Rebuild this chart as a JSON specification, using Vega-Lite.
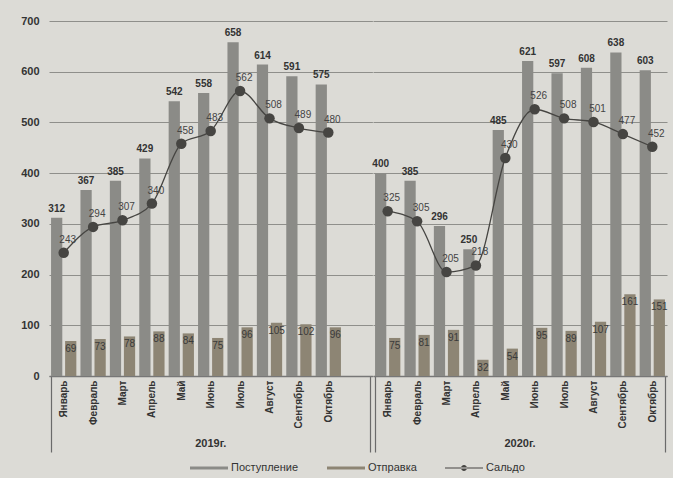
{
  "$schema": "https://vega.github.io/schema/vega-lite/v6.json",
  "background": "#dcdbd6",
  "padding": {"left": 20, "top": 15, "right": 5, "bottom": 5},
  "datasets": {
    "d": [
      {"year": "2019г.", "month": "Январь", "series": "Поступление", "value": 312},
      {"year": "2019г.", "month": "Февраль", "series": "Поступление", "value": 367},
      {"year": "2019г.", "month": "Март", "series": "Поступление", "value": 385},
      {"year": "2019г.", "month": "Апрель", "series": "Поступление", "value": 429},
      {"year": "2019г.", "month": "Май", "series": "Поступление", "value": 542},
      {"year": "2019г.", "month": "Июнь", "series": "Поступление", "value": 558},
      {"year": "2019г.", "month": "Июль", "series": "Поступление", "value": 658},
      {"year": "2019г.", "month": "Август", "series": "Поступление", "value": 614},
      {"year": "2019г.", "month": "Сентябрь", "series": "Поступление", "value": 591},
      {"year": "2019г.", "month": "Октябрь", "series": "Поступление", "value": 575},
      {"year": "2019г.", "month": " ", "series": "Поступление", "value": 0},
      {"year": "2019г.", "month": "Январь", "series": "Отправка", "value": 69},
      {"year": "2019г.", "month": "Февраль", "series": "Отправка", "value": 73},
      {"year": "2019г.", "month": "Март", "series": "Отправка", "value": 78},
      {"year": "2019г.", "month": "Апрель", "series": "Отправка", "value": 88},
      {"year": "2019г.", "month": "Май", "series": "Отправка", "value": 84},
      {"year": "2019г.", "month": "Июнь", "series": "Отправка", "value": 75},
      {"year": "2019г.", "month": "Июль", "series": "Отправка", "value": 96},
      {"year": "2019г.", "month": "Август", "series": "Отправка", "value": 105},
      {"year": "2019г.", "month": "Сентябрь", "series": "Отправка", "value": 102},
      {"year": "2019г.", "month": "Октябрь", "series": "Отправка", "value": 96},
      {"year": "2019г.", "month": "Январь", "series": "Сальдо", "value": 243},
      {"year": "2019г.", "month": "Февраль", "series": "Сальдо", "value": 294},
      {"year": "2019г.", "month": "Март", "series": "Сальдо", "value": 307},
      {"year": "2019г.", "month": "Апрель", "series": "Сальдо", "value": 340},
      {"year": "2019г.", "month": "Май", "series": "Сальдо", "value": 458},
      {"year": "2019г.", "month": "Июнь", "series": "Сальдо", "value": 483},
      {"year": "2019г.", "month": "Июль", "series": "Сальдо", "value": 562},
      {"year": "2019г.", "month": "Август", "series": "Сальдо", "value": 508},
      {"year": "2019г.", "month": "Сентябрь", "series": "Сальдо", "value": 489},
      {"year": "2019г.", "month": "Октябрь", "series": "Сальдо", "value": 480},
      {"year": "2020г.", "month": "Январь", "series": "Поступление", "value": 400},
      {"year": "2020г.", "month": "Февраль", "series": "Поступление", "value": 385},
      {"year": "2020г.", "month": "Март", "series": "Поступление", "value": 296},
      {"year": "2020г.", "month": "Апрель", "series": "Поступление", "value": 250},
      {"year": "2020г.", "month": "Май", "series": "Поступление", "value": 485},
      {"year": "2020г.", "month": "Июнь", "series": "Поступление", "value": 621},
      {"year": "2020г.", "month": "Июль", "series": "Поступление", "value": 597},
      {"year": "2020г.", "month": "Август", "series": "Поступление", "value": 608},
      {"year": "2020г.", "month": "Сентябрь", "series": "Поступление", "value": 638},
      {"year": "2020г.", "month": "Октябрь", "series": "Поступление", "value": 603},
      {"year": "2020г.", "month": "Январь", "series": "Отправка", "value": 75},
      {"year": "2020г.", "month": "Февраль", "series": "Отправка", "value": 81},
      {"year": "2020г.", "month": "Март", "series": "Отправка", "value": 91},
      {"year": "2020г.", "month": "Апрель", "series": "Отправка", "value": 32},
      {"year": "2020г.", "month": "Май", "series": "Отправка", "value": 54},
      {"year": "2020г.", "month": "Июнь", "series": "Отправка", "value": 95},
      {"year": "2020г.", "month": "Июль", "series": "Отправка", "value": 89},
      {"year": "2020г.", "month": "Август", "series": "Отправка", "value": 107},
      {"year": "2020г.", "month": "Сентябрь", "series": "Отправка", "value": 161},
      {"year": "2020г.", "month": "Октябрь", "series": "Отправка", "value": 151},
      {"year": "2020г.", "month": "Январь", "series": "Сальдо", "value": 325},
      {"year": "2020г.", "month": "Февраль", "series": "Сальдо", "value": 305},
      {"year": "2020г.", "month": "Март", "series": "Сальдо", "value": 205},
      {"year": "2020г.", "month": "Апрель", "series": "Сальдо", "value": 218},
      {"year": "2020г.", "month": "Май", "series": "Сальдо", "value": 430},
      {"year": "2020г.", "month": "Июнь", "series": "Сальдо", "value": 526},
      {"year": "2020г.", "month": "Июль", "series": "Сальдо", "value": 508},
      {"year": "2020г.", "month": "Август", "series": "Сальдо", "value": 501},
      {"year": "2020г.", "month": "Сентябрь", "series": "Сальдо", "value": 477},
      {"year": "2020г.", "month": "Октябрь", "series": "Сальдо", "value": 452}
    ]
  },
  "data": {"name": "d"},
  "facet": {
    "column": {
      "field": "year",
      "type": "nominal",
      "header": {
        "labelOrient": "bottom",
        "title": null,
        "labelFont": "Liberation Sans",
        "labelFontSize": 11,
        "labelFontWeight": "bold",
        "labelColor": "#333333",
        "labelPadding": 62
      }
    }
  },
  "spacing": 0,
  "bounds": "flush",
  "resolve": {"scale": {"x": "independent", "xOffset": "independent"}},
  "spec": {
    "width": {"step": 29.4, "for": "position"},
    "height": 355,
    "encoding": {
      "x": {
        "field": "month",
        "type": "nominal",
        "sort": ["Январь", "Февраль", "Март", "Апрель", "Май", "Июнь", "Июль", "Август", "Сентябрь", "Октябрь", " "],
        "scale": {"paddingInner": 0.14, "paddingOuter": 0.07},
        "axis": {
          "title": null,
          "labelAngle": -90,
          "labelFont": "Liberation Sans",
          "labelFontSize": 10,
          "labelFontWeight": "bold",
          "labelColor": "#333333",
          "labelPadding": -72,
          "domainColor": "#777777",
          "domainWidth": 1.5,
          "tickBand": "extent",
          "tickSize": 76,
          "tickColor": "#6a6a6a",
          "tickWidth": 1.2,
          "tickOpacity": {"condition": {"test": "datum.index < 0 || datum.index === 1", "value": 1}, "value": 0}
        }
      },
      "y": {
        "field": "value",
        "type": "quantitative",
        "stack": null,
        "scale": {"domain": [0, 700], "nice": false},
        "axis": {
          "title": null,
          "values": [0, 100, 200, 300, 400, 500, 600, 700],
          "domain": false,
          "ticks": false,
          "labelPadding": 10,
          "labelFont": "Liberation Sans",
          "labelFontSize": 11,
          "labelFontWeight": "bold",
          "labelColor": "#333333",
          "gridColor": "#8f8f8b",
          "gridWidth": 1
        }
      }
    },
    "layer": [
      {
        "transform": [{"filter": "datum.series !== 'Сальдо'"}],
        "mark": {"type": "bar"},
        "encoding": {
          "xOffset": {"field": "series", "type": "nominal", "scale": {"domain": ["Поступление", "Отправка"], "paddingInner": 0.2}},
          "color": {
            "field": "series",
            "type": "nominal",
            "scale": {"domain": ["Поступление", "Отправка", "Сальдо"], "range": ["#8b8b87", "#8d8574", "#464542"]},
            "legend": {
              "title": null,
              "orient": "none",
              "legendX": 150,
              "legendY": 437,
              "direction": "horizontal",
              "labelFont": "Liberation Sans",
              "labelFontSize": 11,
              "labelColor": "#333333",
              "symbolSize": 400,
              "labelOffset": 12,
              "columnPadding": 28,
              "encode": {
                "symbols": {
                  "update": {
                    "shape": {"signal": "datum.value === 'Сальдо' ? 'M-1.9,-0.04H1.9V0.04H-1.9Z M-0.3,0A0.3,0.3 0 1,0 0.3,0A0.3,0.3 0 1,0 -0.3,0Z' : 'M-1.9,-0.14H1.9V0.14H-1.9Z'"},
                    "fill": {"signal": "scale('color', datum.value)"},
                    "strokeWidth": {"value": 0}
                  }
                }
              }
            }
          }
        }
      },
      {
        "transform": [{"filter": "datum.series === 'Поступление' && datum.value > 0"}],
        "mark": {"type": "text", "baseline": "bottom", "dy": -4, "font": "Liberation Sans", "fontSize": 10, "fontWeight": "bold", "color": "#333333"},
        "encoding": {
          "xOffset": {"field": "series", "type": "nominal"},
          "text": {"field": "value", "type": "quantitative"}
        }
      },
      {
        "transform": [{"filter": "datum.series === 'Отправка'"}],
        "mark": {"type": "text", "baseline": "top", "dy": 3, "font": "Liberation Sans", "fontSize": 10, "color": "#3a3a3a"},
        "encoding": {
          "xOffset": {"field": "series", "type": "nominal"},
          "text": {"field": "value", "type": "quantitative"}
        }
      },
      {
        "transform": [{"filter": "datum.series === 'Сальдо'"}],
        "mark": {"type": "line", "interpolate": "monotone", "strokeWidth": 1.3},
        "encoding": {
          "color": {"field": "series", "type": "nominal"}
        }
      },
      {
        "transform": [{"filter": "datum.series === 'Сальдо'"}],
        "mark": {"type": "point", "filled": true, "size": 110, "opacity": 1},
        "encoding": {
          "color": {"field": "series", "type": "nominal"}
        }
      },
      {
        "transform": [{"filter": "datum.series === 'Сальдо'"}],
        "mark": {"type": "text", "align": "center", "baseline": "middle", "dx": 4, "dy": -13, "font": "Liberation Sans", "fontSize": 10, "color": "#444444"},
        "encoding": {
          "text": {"field": "value", "type": "quantitative"}
        }
      }
    ]
  },
  "config": {
    "view": {"stroke": null},
    "font": "Liberation Sans"
  }
}
